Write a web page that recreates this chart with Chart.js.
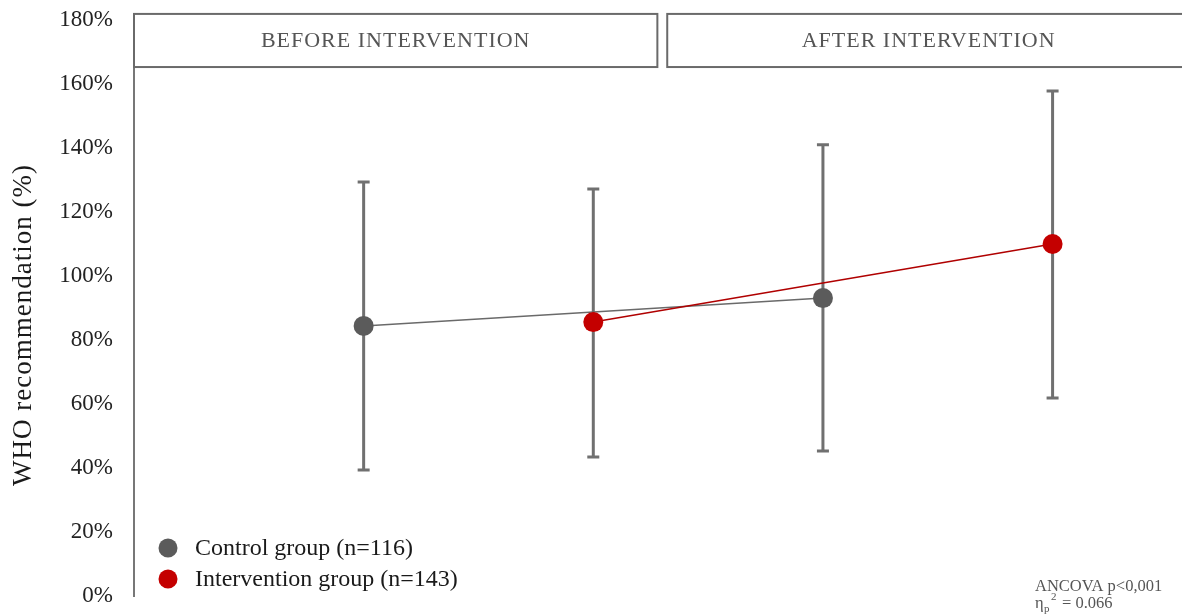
<!DOCTYPE html>
<html>
<head>
<meta charset="utf-8">
<script src="https://cdn.jsdelivr.net/npm/chart.js@4.4.1/dist/chart.umd.min.js"></script>
<style>
html,body{margin:0;padding:0;background:#fff;}
#wrap{width:1182px;height:615px;position:relative;}
</style>
</head>
<body>
<div id="wrap"><canvas id="c"></canvas></div>
<script>
// ---- data ----
const phases = ["BEFORE INTERVENTION", "AFTER INTERVENTION"];
const yTicks = [0, 20, 40, 60, 80, 100, 120, 140, 160, 180];
const yTitle = "WHO recommendation (%)";
const controlLabel = "Control group (n=116)";
const interventionLabel = "Intervention group (n=143)";
const controlX = [1, 3];
const controlMean = [84.4, 93.1];
const controlLow = [39.4, 45.3];
const controlHigh = [129.4, 141.0];
const interventionX = [2, 4];
const interventionMean = [85.6, 110.0];
const interventionLow = [43.4, 61.9];
const interventionHigh = [127.2, 157.8];
const statLine1 = "ANCOVA p<0,001";
const statLine2 = "0.066";

const GREY = '#5b5b5b';
const RED = '#c40000';
const SERIF = '"Liberation Serif", "Times New Roman", serif';

const errorBars = {
  id: 'errorBars',
  beforeDatasetsDraw(chart) {
    const {ctx, scales: {x, y}} = chart;
    ctx.save();
    ctx.strokeStyle = '#707070';
    ctx.lineWidth = 3;
    const draw = (xs, lo, hi) => {
      xs.forEach((xv, i) => {
        const px = x.getPixelForValue(xv);
        const y1 = y.getPixelForValue(lo[i]);
        const y2 = y.getPixelForValue(hi[i]);
        ctx.beginPath();
        ctx.moveTo(px, y1); ctx.lineTo(px, y2);
        ctx.moveTo(px - 6, y1); ctx.lineTo(px + 6, y1);
        ctx.moveTo(px - 6, y2); ctx.lineTo(px + 6, y2);
        ctx.stroke();
      });
    };
    draw(controlX, controlLow, controlHigh);
    draw(interventionX, interventionLow, interventionHigh);
    ctx.restore();
  }
};

const decor = {
  id: 'decor',
  afterDraw(chart) {
    const {ctx, scales: {x, y}, chartArea} = chart;
    ctx.save();
    // header boxes
    const top = y.getPixelForValue(181.9);
    const bot = y.getPixelForValue(165.3);
    const boxes = [[0, 2.279], [2.322, x.max]];
    ctx.strokeStyle = '#6a6a6a';
    ctx.lineWidth = 2;
    ctx.font = '22px ' + SERIF;
    ctx.textAlign = 'center';
    ctx.textBaseline = 'middle';
    try { ctx.letterSpacing = '1px'; } catch (e) {}
    boxes.forEach((b, i) => {
      const x1 = x.getPixelForValue(b[0]);
      let x2 = x.getPixelForValue(b[1]);
      if (i === 1) x2 = chart.width + 2;
      ctx.fillStyle = '#fff';
      ctx.fillRect(x1, top, x2 - x1, bot - top);
      ctx.strokeRect(x1, top, x2 - x1, bot - top);
      ctx.fillStyle = '#555';
      const cx = i === 1 ? (x1 + chart.width) / 2 + 4 : (x1 + x2) / 2;
      ctx.fillText(phases[i], cx, (top + bot) / 2 + 1);
    });
    // y title
    ctx.save();
    ctx.translate(24, (chartArea.top + chartArea.bottom) / 2 + 17);
    ctx.rotate(-Math.PI / 2);
    ctx.font = '27px ' + SERIF;
    ctx.fillStyle = '#1a1a1a';
    ctx.fillText(yTitle, 0, 0);
    ctx.restore();
    try { ctx.letterSpacing = '0px'; } catch (e) {}
    // legend
    const lx = chartArea.left + 34;
    const items = [[GREY, controlLabel, 548], [RED, interventionLabel, 579]];
    ctx.textAlign = 'left';
    ctx.font = '24px ' + SERIF;
    items.forEach(([col, txt, py]) => {
      ctx.beginPath();
      ctx.fillStyle = col;
      ctx.arc(lx, py, 9.5, 0, Math.PI * 2);
      ctx.fill();
      ctx.fillStyle = '#1a1a1a';
      ctx.fillText(txt, lx + 27, py + 1);
    });
    // stats
    ctx.fillStyle = '#555';
    ctx.font = '16.5px ' + SERIF;
    ctx.textAlign = 'left';
    const sx = 1035;
    ctx.fillText(statLine1, sx, 587);
    ctx.fillText('\u03B7', sx, 604);
    ctx.font = '11px ' + SERIF;
    ctx.fillText('p', sx + 9, 609);
    ctx.fillText('2', sx + 16, 597);
    ctx.font = '16.5px ' + SERIF;
    ctx.fillText('= ' + statLine2, sx + 27, 604);
    ctx.restore();
  }
};

new Chart(document.getElementById('c'), {
  type: 'scatter',
  data: {
    datasets: [
      {
        label: controlLabel,
        data: controlX.map((xv, i) => ({x: xv, y: controlMean[i]})),
        showLine: true,
        borderColor: '#6a6a6a',
        borderWidth: 1.5,
        backgroundColor: GREY,
        pointBackgroundColor: GREY,
        pointBorderColor: GREY,
        pointRadius: 10,
        pointBorderWidth: 0,
        order: 2
      },
      {
        label: interventionLabel,
        data: interventionX.map((xv, i) => ({x: xv, y: interventionMean[i]})),
        showLine: true,
        borderColor: '#b00000',
        borderWidth: 1.5,
        backgroundColor: RED,
        pointBackgroundColor: RED,
        pointBorderColor: RED,
        pointRadius: 10,
        pointBorderWidth: 0,
        order: 1
      }
    ]
  },
  options: {
    responsive: true,
    maintainAspectRatio: false,
    animation: false,
    layout: { padding: { top: 20, bottom: 19, left: 0, right: 0 } },
    plugins: {
      legend: { display: false },
      tooltip: { enabled: false }
    },
    scales: {
      x: {
        type: 'linear',
        display: false,
        min: 0,
        max: 4.52
      },
      y: {
        min: 0,
        max: 180,
        afterFit(s) { s.width = 134; s.paddingTop = 0; s.paddingBottom = 0; },
        afterBuildTicks(s) { s.ticks = yTicks.map(v => ({value: v})); },
        grid: { display: false, drawTicks: false },
        border: { display: true, color: '#777', width: 2 },
        ticks: {
          padding: 21,
          color: '#222',
          font: { family: SERIF, size: 23 },
          callback: v => v + '%'
        },
        title: { display: false }
      }
    }
  },
  plugins: [errorBars, decor]
});
</script>
</body>
</html>
